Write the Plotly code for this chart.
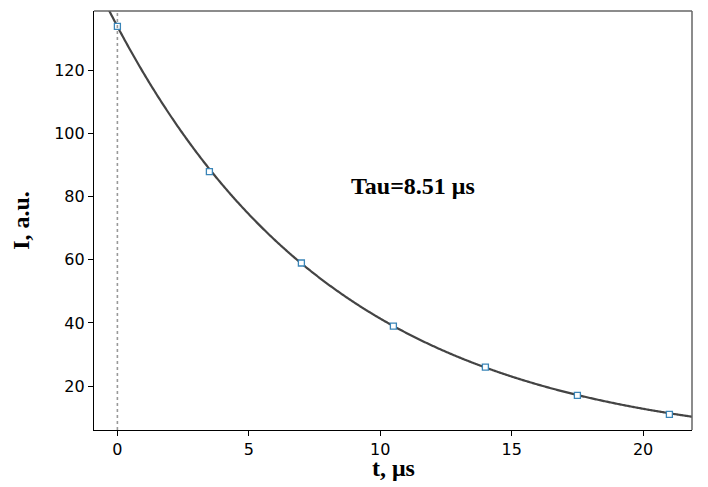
import numpy as np
import plotly.graph_objects as go

# measured data
t_us = [0, 3.5, 7, 10.5, 14, 17.5, 21]
intensity = [134, 88, 59, 39, 26, 17, 11]

# fit parameters (exponential decay)
fit_amp = 134.0
fit_tau = 8.51
x_ticks = [0, 5, 10, 15, 20]
y_ticks = [20, 40, 60, 80, 100, 120]

t_fit = np.linspace(-0.6, 22.2, 600)
i_fit = fit_amp * np.exp(-t_fit / fit_tau)

fig = go.Figure()
fig.add_trace(go.Scatter(x=t_fit, y=i_fit, mode="lines",
                         line=dict(color="#444444", width=2.2, simplify=False),
                         showlegend=False))
fig.add_trace(go.Scatter(x=t_us, y=intensity, mode="markers",
                         marker=dict(symbol="square", size=6, color="white",
                                     line=dict(color="#3a85b8", width=1.3)),
                         showlegend=False))

fig.add_vline(x=0, line=dict(color="#999999", width=1.6, dash="dot"))

serif = "Liberation Serif, Times New Roman, serif"
fig.add_annotation(x=11.25, y=83.4, text="<b>Tau=8.51 μs</b>", showarrow=False,
                   font=dict(family=serif, size=24, color="black"))

# x-axis title as annotation for precise placement
fig.add_annotation(x=0.5, xref="paper", y=0, yref="paper", yshift=-38, yanchor="middle",
                   text="<b>t, μs</b>", showarrow=False,
                   font=dict(family=serif, size=24, color="black"))

# top & right frame lines (gray)
fig.add_shape(type="line", xref="paper", yref="paper", x0=0, x1=1, y0=1, y1=1,
              line=dict(color="#666666", width=1.5))
fig.add_shape(type="line", xref="paper", yref="paper", x0=1, x1=1, y0=0, y1=1,
              line=dict(color="#666666", width=1.5))

# page has an 8px body margin, so the figure is sized/placed accordingly
fig.update_layout(
    width=700, height=479,
    margin=dict(l=86, r=16, t=3, b=57, autoexpand=False),
    plot_bgcolor="white", paper_bgcolor="white",
    font=dict(family="DejaVu Sans", size=16, color="black"),
    xaxis=dict(range=[-0.89, 21.86], tickvals=x_ticks, showgrid=False, zeroline=False,
               showline=True, linecolor="black", linewidth=1.2,
               ticks="outside", ticklen=5, tickcolor="black"),
    yaxis=dict(range=[6.05, 138.9], tickvals=y_ticks, showgrid=False, zeroline=False,
               showline=True, linecolor="black", linewidth=1.2,
               ticks="outside", ticklen=5, tickcolor="black",
               title=dict(text="<b>I, a.u.</b>", font=dict(family=serif, size=24), standoff=18)),
)

fig.write_html("out.html")
